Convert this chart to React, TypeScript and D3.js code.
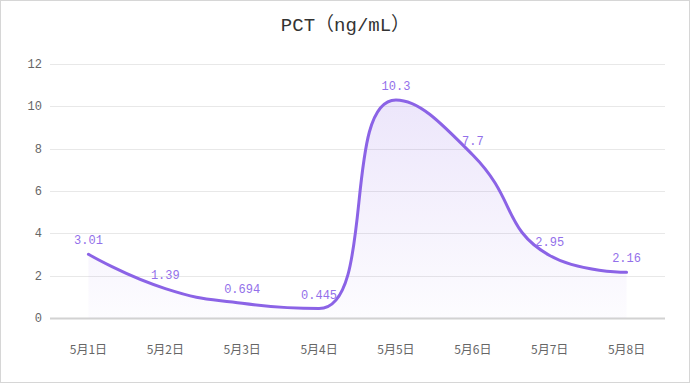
import { useEffect, useRef } from 'react'
import * as d3 from 'd3'

const W = 691, H = 384
const categories = ['5月1日', '5月2日', '5月3日', '5月4日', '5月5日', '5月6日', '5月7日', '5月8日']
const values = [3.01, 1.39, 0.694, 0.445, 10.3, 7.7, 2.95, 2.16]
const yTicks = [0, 2, 4, 6, 8, 10, 12]
const title = 'PCT（ng/mL）'

const LINE = '#8b63e6'
const MONO = '"Liberation Mono", "DejaVu Sans Mono", "Noto Sans CJK SC", monospace'

type P = [number, number]

// echarts-style smooth spline (smooth = 0.5), clamped so extrema stay flat
function smoothPath(pts: P[], smooth = 0.5, path = d3.path()) {
  let cp0: P = pts[0]
  path.moveTo(pts[0][0], pts[0][1])
  for (let i = 1; i < pts.length; i++) {
    const [x, y] = pts[i]
    const [px, py] = pts[i - 1]
    let cp1: P = [x, y]
    let nextCp: P = [x, y]
    if (i < pts.length - 1) {
      const [nx, ny] = pts[i + 1]
      let vx = nx - px, vy = ny - py
      const lenPrev = Math.hypot(x - px, y - py)
      const lenNext = Math.hypot(nx - x, ny - y)
      const ratio = lenNext / (lenNext + lenPrev)
      let ncx = x + vx * smooth * ratio
      let ncy = y + vy * smooth * ratio
      ncx = Math.max(Math.min(ncx, Math.max(nx, x)), Math.min(nx, x))
      ncy = Math.max(Math.min(ncy, Math.max(ny, y)), Math.min(ny, y))
      vx = ncx - x; vy = ncy - y
      let c1x = x - vx * lenPrev / lenNext
      let c1y = y - vy * lenPrev / lenNext
      c1x = Math.max(Math.min(c1x, Math.max(px, x)), Math.min(px, x))
      c1y = Math.max(Math.min(c1y, Math.max(py, y)), Math.min(py, y))
      vx = x - c1x; vy = y - c1y
      cp1 = [c1x, c1y]
      nextCp = [x + vx * lenNext / lenPrev, y + vy * lenNext / lenPrev]
    }
    path.bezierCurveTo(cp0[0], cp0[1], cp1[0], cp1[1], x, y)
    cp0 = nextCp
  }
  return path
}

export default function App() {
  const svgRef = useRef<SVGSVGElement>(null)

  useEffect(() => {
    const svg = d3.select(svgRef.current)
    svg.selectAll('*').remove()

    const m = { top: 64, right: 26, bottom: 66, left: 50 }
    const x = d3.scaleBand<string>().domain(categories).range([m.left, W - m.right])
    const y = d3.scaleLinear().domain([0, 12]).range([H - m.bottom, m.top])
    const cx = (i: number) => (x(categories[i]) ?? 0) + x.bandwidth() / 2

    // border
    svg.append('rect').attr('x', 0.5).attr('y', 0.5).attr('width', W - 2).attr('height', H - 2)
      .attr('fill', '#fff').attr('stroke', '#d6d6d6')

    const defs = svg.append('defs')
    const grad = defs.append('linearGradient').attr('id', 'fillGrad')
      .attr('x1', 0).attr('y1', 0).attr('x2', 0).attr('y2', 1)
    grad.append('stop').attr('offset', '0%').attr('stop-color', '#8b63e6').attr('stop-opacity', 0.16)
    grad.append('stop').attr('offset', '100%').attr('stop-color', '#8b63e6').attr('stop-opacity', 0.02)

    // title: fullwidth parens set in the CJK font
    const tt = svg.append('text').attr('x', W / 2).attr('y', 31).attr('text-anchor', 'middle')
      .attr('font-size', 19).attr('fill', '#333')
    title.split(/([（）])/).filter(Boolean).forEach((part) => {
      tt.append('tspan')
        .attr('font-family', /[（）]/.test(part) ? '"Noto Sans CJK SC", sans-serif' : '"Liberation Mono", monospace')
        .text(part)
    })

    // grid + y ticks
    yTicks.forEach((t) => {
      svg.append('line').attr('x1', m.left).attr('x2', W - m.right)
        .attr('y1', Math.round(y(t)) + 0.5).attr('y2', Math.round(y(t)) + 0.5)
        .attr('stroke', t === 0 ? '#d2d2d2' : '#e8e8e8').attr('stroke-width', t === 0 ? 2 : 1)
      svg.append('text').attr('x', 42).attr('y', y(t) + 4).attr('text-anchor', 'end')
        .attr('font-family', MONO).attr('font-size', 12).attr('fill', '#666').text(t)
    })

    // x labels
    categories.forEach((c, i) => {
      svg.append('text').attr('x', cx(i)).attr('y', 354).attr('text-anchor', 'middle')
        .attr('font-family', '"Noto Sans CJK SC", sans-serif').attr('font-size', 12)
        .attr('fill', '#666').text(c)
    })

    const pts: P[] = values.map((v, i) => [cx(i), y(v)])

    const ap = smoothPath(pts)
    ap.lineTo(pts[pts.length - 1][0], y(0))
    ap.lineTo(pts[0][0], y(0))
    ap.closePath()
    svg.append('path').attr('d', ap.toString()).attr('fill', 'url(#fillGrad)')

    svg.append('path').attr('d', smoothPath(pts).toString()).attr('fill', 'none').attr('stroke', LINE)
      .attr('stroke-width', 3).attr('stroke-linecap', 'round')

    // value labels
    values.forEach((v, i) => {
      svg.append('text').attr('x', cx(i)).attr('y', y(v) - 10).attr('text-anchor', 'middle')
        .attr('font-family', MONO).attr('font-size', 12).attr('fill', '#9370ea').text(v)
    })
  }, [])

  return (
    <svg ref={svgRef} width={W} height={H}
      style={{ position: 'absolute', left: 0, top: 0, display: 'block' }} />
  )
}
